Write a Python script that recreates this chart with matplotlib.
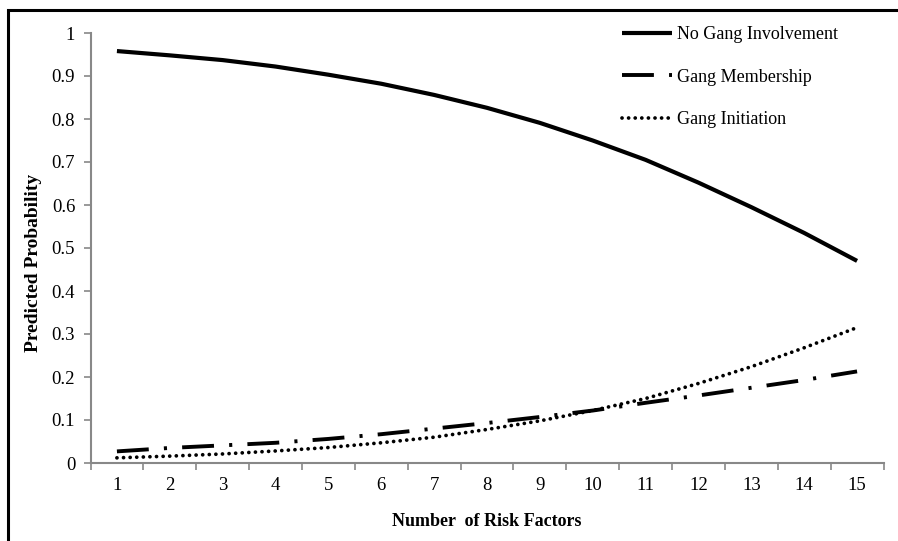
import matplotlib
matplotlib.use("Agg")
import matplotlib.pyplot as plt
from matplotlib.patches import Rectangle

risk_factors = list(range(1, 16))
no_gang = [0.958, 0.948, 0.937, 0.922, 0.903, 0.882, 0.856, 0.826, 0.791,
           0.750, 0.705, 0.652, 0.595, 0.535, 0.470]
membership = [0.027, 0.035, 0.041, 0.047, 0.056, 0.067, 0.080, 0.093, 0.107,
              0.122, 0.140, 0.157, 0.175, 0.193, 0.213]
initiation = [0.012, 0.016, 0.021, 0.028, 0.036, 0.047, 0.060, 0.078, 0.098,
              0.122, 0.150, 0.185, 0.224, 0.268, 0.315]
labels = ["No Gang Involvement", "Gang Membership", "Gang Initiation"]
yticks = [0, 0.1, 0.2, 0.3, 0.4, 0.5, 0.6, 0.7, 0.8, 0.9, 1]
ytick_labels = ["0", "0.1", "0.2", "0.3", "0.4", "0.5", "0.6", "0.7", "0.8", "0.9", "1"]

plt.rcParams['font.family'] = ['Liberation Serif', 'DejaVu Serif']

fig = plt.figure(figsize=(8.98, 5.41), dpi=100)
ax = fig.add_axes([90.5/898, 1-463/541, (883.5-90.5)/898, (463-33)/541])

# outer frame (cut at right/bottom)
fig.patches.append(Rectangle((8/898, -0.1), 1.2, 1 - 10/541 + 0.1,
                             transform=fig.transFigure, fill=False,
                             edgecolor='black', linewidth=2.2))

ax.plot(risk_factors, no_gang, color='black', linewidth=3.0,
        solid_capstyle='butt', label=labels[0])
ax.plot(risk_factors, membership, color='black', linewidth=2.8,
        dashes=(8.2, 3.9, 0.8, 3.9), label=labels[1])
ax.plot(risk_factors, initiation, color='black', linewidth=2.7,
        dashes=(0.01, 1.75), dash_capstyle='round', label=labels[2])

ax.set_xlim(0.5, 15.5)
ax.set_ylim(0, 1)
ax.set_yticks(yticks)
ax.set_yticklabels(ytick_labels)
ax.set_xticks(risk_factors)
ax.set_xticks([x + 0.5 for x in range(0, 16)], minor=True)
ax.tick_params(axis='x', which='major', length=0, pad=10, labelsize=13.5)
ax.tick_params(axis='x', which='minor', length=5, color='#888888', width=1.2)
ax.tick_params(axis='y', length=5, color='#888888', width=1.2, labelsize=13.5, pad=6)

for s in ['top', 'right']:
    ax.spines[s].set_visible(False)
for s in ['left', 'bottom']:
    ax.spines[s].set_color('#888888')
    ax.spines[s].set_linewidth(1.5)

ax.set_xlabel("Number  of Risk Factors", fontsize=13, fontweight='bold', labelpad=14)
ax.set_ylabel("Predicted Probability", fontsize=14, fontweight='bold')
ax.yaxis.set_label_coords((42 - 90.5) / 793, (463 - 263) / 430)

leg = ax.legend(loc='upper left',
                bbox_to_anchor=((606-90.5)/(883.5-90.5), 1.03 + 10/430),
                frameon=False, fontsize=13, handlelength=2.75, handletextpad=0.28,
                labelspacing=1.4)

fig.savefig("out.png", dpi=100)
